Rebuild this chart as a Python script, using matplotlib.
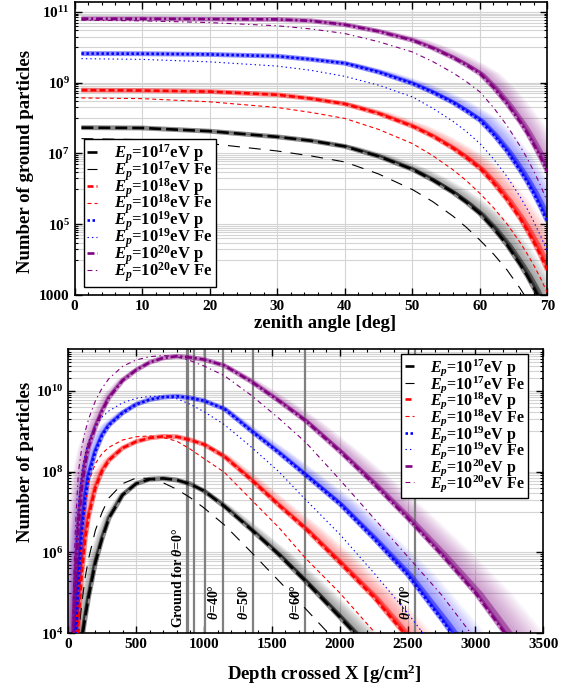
import numpy as np
import matplotlib
matplotlib.use('Agg')
import matplotlib.pyplot as plt
from matplotlib.ticker import FixedLocator, MultipleLocator, NullFormatter
from matplotlib.transforms import blended_transform_factory

plt.rcParams['font.family'] = 'Liberation Serif'
plt.rcParams['font.weight'] = 'bold'
plt.rcParams['mathtext.fontset'] = 'custom'
plt.rcParams['mathtext.rm'] = 'Liberation Serif:bold'
plt.rcParams['mathtext.it'] = 'Liberation Serif:italic:bold'
plt.rcParams['mathtext.bf'] = 'Liberation Serif:bold'
plt.rcParams['lines.scale_dashes'] = False
nan = np.nan

# top panel: log10(number of ground particles) vs zenith angle
zenith = [1, 10, 20, 30, 35, 40, 45, 50, 53, 56, 58, 60, 62, 64, 66, 67, 68, 69, 70]
gnd_p17 = [7.73, 7.72, 7.63, 7.47, 7.36, 7.20, 6.92, 6.55, 6.25, 5.90, 5.62, 5.30, 4.89, 4.42, 3.85, 3.54, 3.19, 2.81, 2.39]
gnd_fe17 = [7.42, 7.39, 7.28, 7.07, 6.93, 6.76, 6.42, 5.98, 5.64, 5.23, 4.91, 4.55, 4.16, 3.71, 3.17, 2.87, 2.54, 2.18, 1.78]
gnd_p18 = [8.79, 8.78, 8.75, 8.66, 8.55, 8.40, 8.13, 7.77, 7.49, 7.15, 6.88, 6.58, 6.17, 5.70, 5.15, 4.83, 4.49, 4.11, 3.70]
gnd_fe18 = [8.57, 8.55, 8.46, 8.30, 8.16, 7.99, 7.68, 7.28, 6.94, 6.54, 6.23, 5.87, 5.47, 5.01, 4.47, 4.16, 3.83, 3.46, 3.05]
gnd_p19 = [9.825, 9.82, 9.80, 9.75, 9.66, 9.55, 9.30, 8.98, 8.73, 8.44, 8.20, 7.94, 7.54, 7.07, 6.51, 6.20, 5.86, 5.48, 5.07]
gnd_fe19 = [9.68, 9.66, 9.59, 9.47, 9.35, 9.18, 8.93, 8.60, 8.28, 7.91, 7.62, 7.28, 6.85, 6.35, 5.76, 5.43, 5.06, 4.66, 4.22]
gnd_p20 = [10.81, 10.81, 10.80, 10.79, 10.75, 10.64, 10.45, 10.20, 9.98, 9.71, 9.50, 9.26, 8.87, 8.41, 7.88, 7.58, 7.24, 6.88, 6.48]
gnd_fe20 = [10.77, 10.75, 10.70, 10.61, 10.52, 10.39, 10.16, 9.87, 9.60, 9.28, 9.03, 8.74, 8.30, 7.79, 7.19, 6.86, 6.49, 6.08, 5.63]

# bottom panel: log10(number of particles) vs crossed depth
depth = [30, 40, 50, 60, 75, 100, 125, 150, 200, 250, 300, 400, 500, 600, 700, 800,
         900, 1000, 1150, 1350, 1550, 1750, 2000, 2250, 2500, 2750, 3000, 3250]
prof_p17 = [nan, nan, nan, nan, 3.2, 3.85, 4.4, 4.9, 5.75, 6.35, 6.85, 7.42, 7.70, 7.81, 7.83, 7.79,
            7.69, 7.52, 7.14, 6.56, 5.95, 5.28, 4.40, 3.5, nan, nan, nan, nan]
prof_fe17 = [nan, nan, nan, 3.3, 4.0, 4.75, 5.4, 5.85, 6.55, 7.0, 7.35, 7.70, 7.84, 7.83, 7.72, 7.56,
             7.35, 7.10, 6.68, 6.0, 5.3, 4.6, 3.7, nan, nan, nan, nan, nan]
prof_p18 = [nan, nan, nan, 3.5, 4.3, 5.5, 6.35, 6.9, 7.6, 8.02, 8.28, 8.58, 8.74, 8.83, 8.87, 8.86,
            8.78, 8.67, 8.37, 7.79, 7.17, 6.58, 5.75, 4.9, 3.9, nan, nan, nan]
prof_fe18 = [nan, nan, 3.7, 4.4, 5.4, 6.5, 7.2, 7.75, 8.2, 8.45, 8.6, 8.78, 8.86, 8.88, 8.84, 8.75,
             8.55, 8.32, 7.98, 7.30, 6.62, 5.85, 5.0, 4.05, 3.0, nan, nan, nan]
prof_p19 = [nan, nan, 3.6, 4.3, 5.3, 6.5, 7.35, 7.9, 8.5, 8.9, 9.15, 9.45, 9.66, 9.78, 9.84, 9.86,
            9.82, 9.75, 9.55, 9.00, 8.47, 7.91, 7.2, 6.35, 5.45, 4.35, 3.2, nan]
prof_fe19 = [nan, 3.3, 4.8, 6.2, 7.2, 8.0, 8.45, 8.75, 9.12, 9.35, 9.5, 9.7, 9.81, 9.86, 9.86, 9.80,
             9.66, 9.48, 9.16, 8.60, 8.0, 7.3, 6.45, 5.5, 4.5, 3.4, nan, nan]
prof_p20 = [nan, 3.9, 4.9, 5.65, 6.6, 7.6, 8.2, 8.6, 9.1, 9.5, 9.83, 10.25, 10.51, 10.70, 10.81, 10.85,
            10.82, 10.77, 10.62, 10.22, 9.75, 9.25, 8.5, 7.7, 6.85, 5.95, 5.0, 3.85]
prof_fe20 = [3.5, 5.2, 6.4, 7.1, 8.0, 8.6, 9.0, 9.3, 9.75, 10.07, 10.3, 10.6, 10.76, 10.84, 10.87, 10.84,
             10.74, 10.61, 10.37, 9.88, 9.32, 8.72, 7.8, 6.85, 5.9, 4.95, 3.85, nan]

# ground depth for the zenith angles marked in the bottom panel
ground_depth = [872, 885, 929, 1008, 1138, 1362, 1744, 2556]
ground_text = ['Ground for $\\theta$=0\u00b0', None, None, None,
               '$\\theta$=40\u00b0', '$\\theta$=50\u00b0', '$\\theta$=60\u00b0', '$\\theta$=70\u00b0']

energies = [17, 18, 19, 20]
colors = ['black', 'red', 'blue', '#800080']
dash_p = [(8.6, 3.6), (4.3, 2.2), (1.8, 1.8), (5, 2, 1.5, 2)]
dash_fe = [(8.6, 6.5), (2.9, 2.2), (1.0, 2.2), (3.5, 2.5, 1, 2.5)]


def draw_p(ax, x, y, pivot, color, dashes, s_core, s_max, label):
    x = np.asarray(x, float)
    n = 10 ** np.asarray(y, float)
    ok = ~np.isnan(n)
    xo, no = x[ok], n[ok]
    if pivot is None:
        pivot = xo[np.argmax(no)]
    # soft glow (shower spread)
    for k in range(1, 13):
        xs = pivot + (xo - pivot) * (1 + s_max * k / 12)
        ax.fill(np.r_[xo, xs[::-1]], np.r_[no, no[::-1]], color=color, alpha=0.045, lw=0, zorder=1.5)
    xs = pivot + (xo - pivot) * (1 + s_core)
    ax.fill(np.r_[xo, xs[::-1]], np.r_[no, no[::-1]], color=color, alpha=0.45, lw=0, zorder=2.4)
    ax.plot(xo, no, color=color, lw=3.5, alpha=0.45, zorder=2.5, solid_capstyle='butt')
    ax.plot(xo, no, color=color, lw=1.9, dashes=dashes, zorder=3, label=label)


def draw_fe(ax, x, y, color, dashes, label):
    ax.plot(x, 10 ** np.asarray(y, float), color=color, lw=0.8, dashes=dashes, zorder=3, label=label)


def style_axes(ax, majors, labels, grid_decades, xmin_step):
    ax.set_yscale('log')
    ax.yaxis.set_major_locator(FixedLocator(majors))
    ax.set_yticklabels(labels)
    minors = []
    for d in grid_decades:
        minors += [k * 10.0 ** (d - 1) for k in range(1, 10)]
    ax.yaxis.set_minor_locator(FixedLocator(minors))
    ax.yaxis.set_minor_formatter(NullFormatter())
    ax.xaxis.set_minor_locator(MultipleLocator(xmin_step))
    for v in minors + majors:
        ax.axhline(v, color='#d4d4d4', lw=0.8, zorder=0.5)
    ax.tick_params(which='both', direction='in', top=True, right=True, labelsize=11)
    ax.tick_params(which='major', length=5, width=1)
    ax.tick_params(which='minor', length=2.5, width=0.8)
    for s in ax.spines.values():
        s.set_linewidth(1.2)


fig = plt.figure(figsize=(5.7, 6.9), dpi=100)

# ---------------- top panel
ax1 = fig.add_axes([0.131, 0.5725, 0.8295, 0.4245])
gnd_p = [gnd_p17, gnd_p18, gnd_p19, gnd_p20]
gnd_fe = [gnd_fe17, gnd_fe18, gnd_fe19, gnd_fe20]
for i, e in enumerate(energies):
    draw_p(ax1, zenith, gnd_p[i], 0.0, colors[i], dash_p[i], 0.012, 0.05,
           '$E_p$=10$^{%d}$eV p' % e)
    draw_fe(ax1, zenith, gnd_fe[i], colors[i], dash_fe[i], '$E_p$=10$^{%d}$eV Fe' % e)
ax1.set_xlim(0, 70)
ax1.set_ylim(1e3, 10 ** 11.28)
style_axes(ax1, [1e3, 1e5, 1e7, 1e9, 1e11],
           ['1000', '10$^{5}$', '10$^{7}$', '10$^{9}$', '10$^{11}$'], [5, 7, 9, 11], 2)
ax1.xaxis.set_major_locator(MultipleLocator(10))
ax1.grid(axis='x', color='#d4d4d4', lw=0.8)
ax1.set_axisbelow(True)
ax1.set_xlabel('zenith angle [deg]', fontsize=13.5, fontweight='bold')
ax1.set_ylabel('Number of ground particles', fontsize=13.5, fontweight='bold')
ax1.xaxis.set_label_coords(0.529, -0.068)
ax1.yaxis.set_label_coords(-0.086, 0.457)
leg = ax1.legend(loc='lower left', bbox_to_anchor=(0.02, 0.027), borderaxespad=0, fontsize=12,
                 handlelength=0.6, handletextpad=1.0, labelspacing=-0.4, fancybox=False,
                 edgecolor='black', framealpha=1, borderpad=0.2)
leg.get_frame().set_linewidth(1.0)

# ---------------- bottom panel
ax2 = fig.add_axes([0.1198, 0.0822, 0.8334, 0.412])
prof_p = [prof_p17, prof_p18, prof_p19, prof_p20]
prof_fe = [prof_fe17, prof_fe18, prof_fe19, prof_fe20]
trans = blended_transform_factory(ax2.transData, ax2.transAxes)
for i, (gx, txt) in enumerate(zip(ground_depth, ground_text)):
    ax2.axvline(gx, color='#808080', lw=1.6, zorder=2)
    if txt:
        yb = 0.019 if i == 0 else 0.047
        ax2.annotate(txt, (gx, yb), xycoords=trans, xytext=(-1.5, 0), textcoords='offset points',
                     rotation=90, ha='right', va='bottom', fontsize=10, zorder=4)
for i, e in enumerate(energies):
    draw_p(ax2, depth, prof_p[i], None, colors[i], dash_p[i], 0.025, 0.12,
           '$E_p$=10$^{%d}$eV p' % e)
    draw_fe(ax2, depth, prof_fe[i], colors[i], dash_fe[i], '$E_p$=10$^{%d}$eV Fe' % e)
ax2.set_xlim(0, 3500)
ax2.set_ylim(1e4, 10 ** 11.03)
style_axes(ax2, [1e4, 1e6, 1e8, 1e10],
           ['10$^{4}$', '10$^{6}$', '10$^{8}$', '10$^{10}$'], [6, 8, 10, 11], 100)
ax2.xaxis.set_major_locator(MultipleLocator(500))
ax2.grid(axis='x', color='#d4d4d4', lw=0.8)
ax2.set_axisbelow(True)
ax2.set_xlabel('Depth crossed X [g/cm$^{2}$]', fontsize=13.5, fontweight='bold')
ax2.set_ylabel('Number of particles', fontsize=13.5, fontweight='bold')
ax2.xaxis.set_label_coords(0.540, -0.104)
ax2.yaxis.set_label_coords(-0.072, 0.603)
leg2 = ax2.legend(loc='upper right', bbox_to_anchor=(0.968, 0.982), borderaxespad=0, fontsize=11.5,
                  handlelength=0.6, handletextpad=1.0, labelspacing=-0.27, fancybox=False,
                  edgecolor='black', framealpha=1, borderpad=0.2)
leg2.get_frame().set_linewidth(1.0)
leg2.set_zorder(5)

fig.savefig('out.png', dpi=100)
